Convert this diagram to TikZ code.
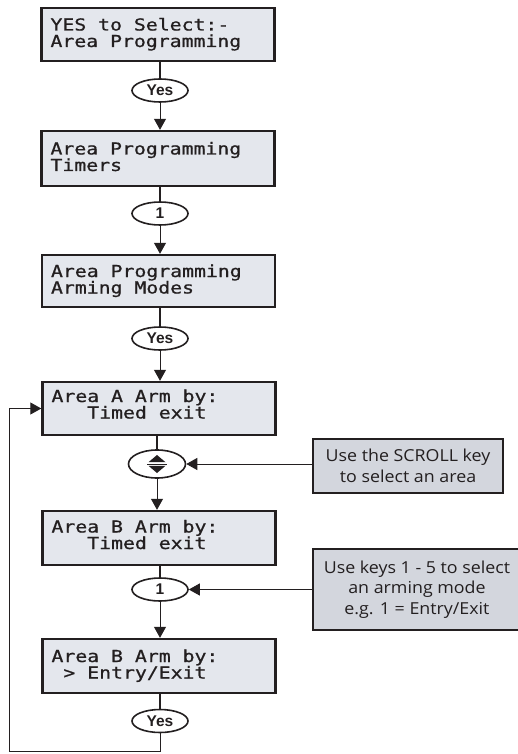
\documentclass[tikz,border=0pt]{standalone}
\usepackage{fontspec}
\usetikzlibrary{arrows.meta,shapes.geometric}
\newfontfamily\lcdfont[FakeStretch=1.2,FakeBold=0.8]{DejaVu Sans Mono}
\newfontfamily\notefont[FakeStretch=1.08]{Open Sans}
\newfontfamily\keyfont{Liberation Sans}
\definecolor{ink}{RGB}{35,31,32}
\definecolor{lcdfill}{RGB}{228,231,237}
\definecolor{notefill}{RGB}{211,214,221}
\tikzset{
  lcdbox/.style={draw=ink, line width=2.4pt, fill=lcdfill, minimum width=233pt, inner sep=0pt},
  lcdline/.style={anchor=base west, inner sep=0pt, text height=11pt, text depth=0pt,
    font=\lcdfont\fontsize{16.5}{16.5}\selectfont, text=ink},
  notebox/.style={draw=ink, line width=2.4pt, fill=notefill, inner sep=0pt,
    align=center, font=\notefont\fontsize{16.5}{20.5}\selectfont, text=ink},
  keyoval/.style={ellipse, draw=ink, line width=1.6pt, fill=white, minimum width=56pt,
    minimum height=23pt, inner sep=0pt, font=\keyfont\bfseries\fontsize{15.5}{15.5}\selectfont, text=ink},
  upline/.style={draw=ink, line width=2.4pt},
  arr/.style={draw=ink, line width=1pt, -{Triangle[length=11pt,width=12pt]}},
}
\begin{document}
\begin{tikzpicture}[x=1pt,y=-1pt]
\useasboundingbox (0,0) rectangle (517,754);
% LCD boxes
\node[lcdbox, minimum height=53pt] (b1) at (158,34.5) {};
\node[lcdbox, minimum height=55pt] (b2) at (158,158.5) {};
\node[lcdbox, minimum height=52pt] (b3) at (158.5,281) {};
\node[lcdbox, minimum height=53pt] (b4) at (159,408.5) {};
\node[lcdbox, minimum height=54pt] (b5) at (159,538) {};
\node[lcdbox, minimum height=54pt] (b6) at (159,666) {};
% LCD text lines
\node[lcdline] (b1a) at ([shift={(10,-4)}]b1.west) {YES to Select:-};
\node[lcdline] (b1b) at ([shift={(10,12.5)}]b1.west) {Area Programming};
\node[lcdline] (b2a) at ([shift={(10,-4)}]b2.west) {Area Programming};
\node[lcdline] (b2b) at ([shift={(10,12.5)}]b2.west) {Timers};
\node[lcdline] (b3a) at ([shift={(10,-4)}]b3.west) {Area Programming};
\node[lcdline] (b3b) at ([shift={(10,12.5)}]b3.west) {Arming Modes};
\node[lcdline] (b4a) at ([shift={(10,-6.5)}]b4.west) {Area A Arm by:};
\node[lcdline] (b4b) at ([shift={(10,10)}]b4.west) {\phantom{Are}Timed exit};
\node[lcdline] (b5a) at ([shift={(10,-5.5)}]b5.west) {Area B Arm by:};
\node[lcdline] (b5b) at ([shift={(10,11)}]b5.west) {\phantom{Are}Timed exit};
\node[lcdline] (b6a) at ([shift={(10,-4)}]b6.west) {Area B Arm by:};
\node[lcdline] (b6b) at ([shift={(10,12.5)}]b6.west) {\phantom{A}>\phantom{A}Entry/Exit};
% key ovals
\node[keyoval] (e1) at (160,90.5) {Yes};
\node[keyoval] (e2) at (160,213.5) {1};
\node[keyoval] (e3) at (160,338.5) {Yes};
\node[keyoval, minimum width=57pt, minimum height=28pt] (e4) at (157,464) {};
\node[keyoval] (e5) at (160,589.5) {1};
\node[keyoval] (e6) at (160,721) {Yes};
% scroll symbol
\fill[ink, shift={(e4.center)}] (-8.5,-1.8) -- (8.5,-1.8) -- (0,-9) -- cycle;
\fill[ink, shift={(e4.center)}] (-8.5,1.8) -- (8.5,1.8) -- (0,9) -- cycle;
\draw[ink, line width=1pt, shift={(e4.center)}] (-10,0) -- (10,0);
% note boxes
\node[notebox, minimum width=190pt, minimum height=54pt] (n1) at (408,466) {Use the SCROLL key\\to select an area};
\node[notebox, minimum width=208pt, minimum height=81pt] (n2) at (417,589.5) {Use keys 1 - 5 to select\\an arming mode\\e.g. 1 = Entry/Exit};
% connectors
\path[upline] (b1.south -| e1) -- (e1.north);
\path[arr] (e1.south) -- (b2.north -| e1);
\path[upline] (b2.south -| e2) -- (e2.north);
\path[arr] (e2.south) -- (b3.north -| e2);
\path[upline] (b3.south -| e3) -- (e3.north);
\path[arr] (e3.south) -- (b4.north -| e3);
\path[upline] (b4.south -| e4) -- (e4.north);
\path[arr] (e4.south) -- (b5.north -| e4);
\path[upline] (b5.south -| e5) -- (e5.north);
\path[arr] (e5.south) -- (b6.north -| e5);
\path[upline] (b6.south -| e6) -- (e6.north);
\path[arr] (n1.west |- e4) -- (e4.east);
\path[arr] (n2.west |- e5) -- (e5.east);
\coordinate (lb) at (9,751);
\path[arr] (e6.south) |- (lb) |- (b4.west);
\end{tikzpicture}
\end{document}
